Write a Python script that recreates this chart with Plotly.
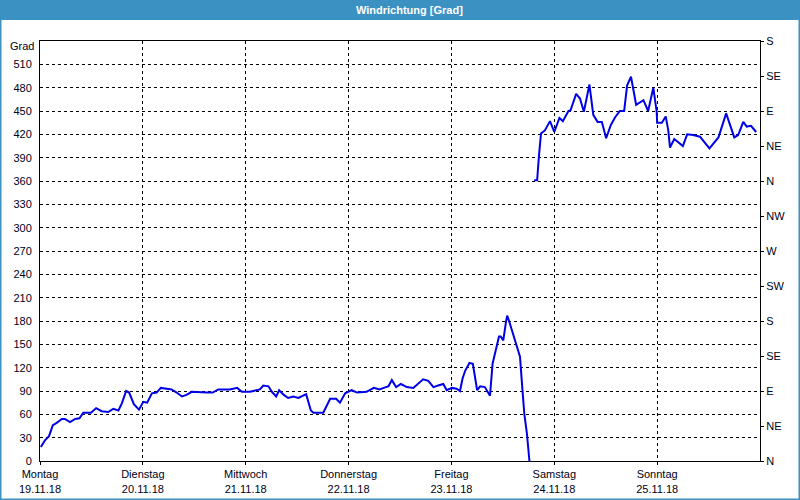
import plotly.graph_objects as go

# hours since Montag 19.11.18 00:00
hours_a = [0.2, 1.2, 2.1, 3.0, 3.9, 5.1, 5.8, 7.0, 8.2, 9.2, 10.1, 11.9, 13.1, 14.4, 15.9, 17.1,
           18.3, 19.1, 20.1, 20.8, 21.9, 23.1, 24.1, 25.0, 26.1, 27.2, 28.2, 30.7, 31.9, 33.1,
           34.2, 35.4, 38.9, 40.3, 41.6, 44.3, 46.0, 47.1, 49.0, 51.3, 52.1, 53.3, 54.1, 55.1,
           55.8, 56.9, 57.9, 59.1, 60.3, 62.1, 63.2, 63.8, 66.1, 67.7, 69.1, 70.0, 71.2, 72.7,
           74.0, 76.2, 77.9, 79.2, 80.7, 81.3, 82.1, 83.1, 84.2, 85.6, 87.1, 88.3, 89.4, 90.6,
           91.8, 92.9, 94.1, 94.9, 96.1, 97.2, 98.0, 98.6, 99.2, 100.2, 101.0, 102.0, 102.7,
           103.8, 105.0, 105.6, 106.2, 107.1, 107.5, 108.1, 108.7, 109.0, 109.4, 110.3, 111.2,
           112.0, 112.4, 113.0, 113.6, 114.1, 114.2]
deg_a = [18, 27, 32, 46, 49, 54, 54, 50, 54, 55, 62, 62, 68, 64, 63, 67,
         65, 74, 90, 88, 73, 66, 76, 75, 87, 88, 94, 92, 88, 83,
         85, 89, 88, 88, 92, 92, 94, 89, 89, 92, 97, 96, 89, 83,
         91, 85, 81, 83, 81, 86, 65, 62, 62, 80, 80, 75, 87, 91,
         88, 89, 94, 92, 95, 96, 104, 95, 99, 95, 94, 100, 105, 103,
         95, 97, 99, 91, 94, 93, 90, 106, 116, 126, 125, 91, 96,
         95, 84, 125, 138, 160, 160, 155, 178, 187, 181, 164, 147,
         134, 104, 61, 36, 10, 0]

hours_b = [115.3, 116.0, 116.4, 116.9, 117.8, 119.0, 120.0, 121.2, 122.0, 123.3, 123.8, 125.1,
           126.0, 126.9, 128.2, 129.1, 130.1, 131.1, 132.1, 133.2, 134.2, 135.3, 136.3, 137.0,
           137.9, 139.1, 140.8, 141.9, 143.1, 143.9, 144.0, 145.1, 146.0, 146.6, 147.0, 148.0,
           150.0, 151.0, 152.4, 154.0, 156.2, 158.3, 160.1, 162.0, 162.9, 164.1, 164.9, 165.9,
           167.1]
deg_b = [361, 361, 391, 421, 425, 437, 423, 441, 437, 450, 451, 472,
         466, 449, 484, 445, 436, 436, 415, 432, 442, 450, 450, 483,
         494, 458, 464, 450, 480, 449, 435, 435, 443, 425, 403, 414,
         405, 420, 419, 417, 402, 416, 447, 416, 419, 436, 430, 431,
         423]

day_pos = [0, 24, 48, 72, 96, 120, 144]
day_labels = ["Montag<br>19.11.18", "Dienstag<br>20.11.18", "Mittwoch<br>21.11.18",
              "Donnerstag<br>22.11.18", "Freitag<br>23.11.18", "Samstag<br>24.11.18",
              "Sonntag<br>25.11.18"]
left_ticks = list(range(0, 540, 30))
dir_ticks = list(range(0, 541, 45))
dir_labels = ["N", "NE", "E", "SE", "S", "SW", "W", "NW", "N", "NE", "E", "SE", "S"]

x = hours_a + [None] + hours_b
y = deg_a + [None] + deg_b

W, H = 800, 500
L, R, T, B = 40, 40, 41, 39
pw, ph = W - L - R, H - T - B


def px(xp):
    return (xp - L) / pw


def py(yp):
    return (H - B - yp) / ph


fig = go.Figure()
fig.add_trace(go.Scatter(x=x, y=y, mode="lines", line=dict(color="#0000e6", width=2),
                         connectgaps=False, showlegend=False, hoverinfo="skip"))
fig.add_trace(go.Scatter(x=[None], y=[None], yaxis="y2", showlegend=False))

font_c = "#000020"
fig.update_layout(
    width=W, height=H,
    margin=dict(l=L, r=R, t=T, b=B, autoexpand=False),
    paper_bgcolor="white", plot_bgcolor="white",
    font=dict(family="Liberation Sans, Arial, sans-serif", size=11, color=font_c),
    xaxis=dict(range=[0, 168], tickvals=day_pos, ticktext=day_labels, automargin=False,
               showgrid=True, gridcolor="black", gridwidth=1, griddash="3px,3px",
               showline=True, linecolor="black", linewidth=1, mirror=True,
               ticks="outside", ticklen=3, tickcolor="black", zeroline=False,
               tickfont=dict(size=11, color=font_c)),
    yaxis=dict(range=[0, 540], tickvals=left_ticks, automargin=False,
               showgrid=True, gridcolor="black", gridwidth=1, griddash="3px,3px",
               showline=True, linecolor="black", linewidth=1, mirror=True,
               ticks="", ticklabelstandoff=5, zeroline=False,
               tickfont=dict(size=11, color=font_c)),
    yaxis2=dict(range=[0, 540], tickvals=dir_ticks, ticktext=dir_labels, automargin=False,
                overlaying="y", side="right", showgrid=False, zeroline=False,
                ticks="outside", ticklen=3, tickcolor="black",
                tickfont=dict(size=11, color=font_c)),
    shapes=[
        dict(type="rect", xref="paper", yref="paper", x0=px(0), x1=px(W), y0=py(0), y1=py(20),
             fillcolor="#3c91c3", line=dict(width=0), layer="above"),
        dict(type="rect", xref="paper", yref="paper", x0=px(0.5), x1=px(W - 0.5),
             y0=py(0), y1=py(H - 0.5), fillcolor="rgba(0,0,0,0)",
             line=dict(color="#3c91c3", width=2), layer="above"),
    ],
    annotations=[
        dict(text="<b>Windrichtung [Grad]</b>", xref="paper", yref="paper",
             x=px(410), y=py(10), xanchor="center", yanchor="middle", showarrow=False,
             font=dict(family="Liberation Sans, Arial, sans-serif", size=11, color="white")),
        dict(text="Grad", xref="paper", yref="paper", x=px(36), y=py(46),
             xanchor="right", yanchor="middle", showarrow=False,
             font=dict(size=11, color=font_c)),
    ],
)

fig.write_html("out.html", config={"displayModeBar": False},
               post_script="document.body.style.margin='0px';document.body.style.padding='0px';"
                           "document.body.style.overflow='hidden';")
